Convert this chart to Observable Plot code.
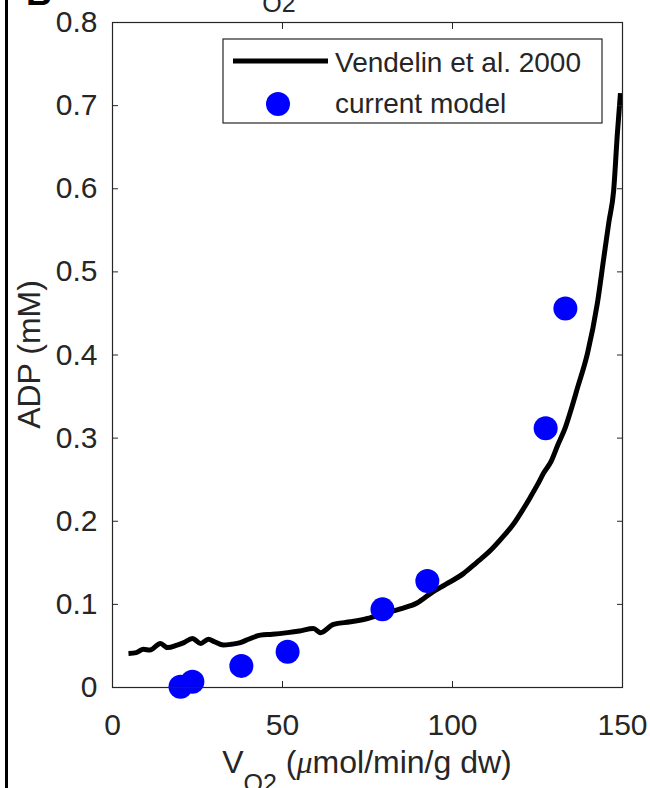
<!DOCTYPE html>
<html>
<head>
<meta charset="utf-8">
<script src="https://cdn.jsdelivr.net/npm/d3@7"></script>
<script src="https://cdn.jsdelivr.net/npm/@observablehq/plot@0.6"></script>
<style>
  html, body { margin: 0; padding: 0; background: #fff; overflow: hidden; }
  #chart svg { display: block; }
</style>
</head>
<body>
<div id="chart"></div>
<script>
// Vendelin et al. 2000 curve (VO2, ADP)
const lineVO2 = [4.7, 7, 9.1, 11, 14.1, 16.2, 19, 21, 23.5, 25.9, 28.2, 30, 32.6, 35, 37.6, 40, 43.5, 47, 51.5, 55, 59.1, 61.2, 65, 70, 75, 79.7, 85, 89.7, 93.5, 98, 103.2, 107, 111.2, 115, 118, 121, 122.9, 125, 126.8, 129, 131, 133.2, 135, 136.8, 139.7, 142.6, 144.4, 146, 147.4, 148.5, 149.4];
const lineADP = [0.041, 0.042, 0.046, 0.045, 0.053, 0.048, 0.051, 0.054, 0.059, 0.053, 0.058, 0.055, 0.051, 0.052, 0.054, 0.058, 0.063, 0.064, 0.066, 0.068, 0.071, 0.066, 0.076, 0.079, 0.083, 0.089, 0.095, 0.102, 0.113, 0.124, 0.137, 0.150, 0.165, 0.182, 0.197, 0.216, 0.229, 0.244, 0.258, 0.272, 0.292, 0.313, 0.336, 0.361, 0.402, 0.462, 0.514, 0.560, 0.598, 0.667, 0.715];
// current model points
const modelVO2 = [20, 23.5, 37.9, 51.5, 79.4, 92.6, 127.4, 133.2];
const modelADP = [0.001, 0.007, 0.026, 0.043, 0.094, 0.128, 0.312, 0.456];
// ticks
const xTicks = [0, 50, 100, 150];
const yTicks = [0, 0.1, 0.2, 0.3, 0.4, 0.5, 0.6, 0.7, 0.8];
const yTickLabels = ["0", "0.1", "0.2", "0.3", "0.4", "0.5", "0.6", "0.7", "0.8"];
const legendLabels = ["Vendelin et al. 2000", "current model"];

const lineData = lineVO2.map((x, i) => ({x, y: lineADP[i]}));
const modelData = modelVO2.map((x, i) => ({x, y: modelADP[i]}));

const W = 650, H = 788;
const mL = 112, mR = 28, mT = 22, mB = 101;
const axisColor = "#262626";
const font = "'Liberation Sans', Arial, Helvetica, sans-serif";

const chart = Plot.plot({
  width: W,
  height: H,
  marginLeft: mL,
  marginRight: mR,
  marginTop: mT,
  marginBottom: mB,
  style: {fontFamily: font, background: "#fff", color: axisColor, overflow: "visible"},
  x: {domain: [0, 150]},
  y: {domain: [0, 0.8]},
  marks: [
    Plot.line(lineData, {x: "x", y: "y", stroke: "#000", strokeWidth: 5, curve: "monotone-x", strokeLinejoin: "round", strokeLinecap: "butt"}),
    Plot.dot(modelData, {x: "x", y: "y", r: 12, fill: "#0000ff", stroke: "none"}),
    Plot.frame({stroke: axisColor, strokeWidth: 1.2}),
    // labels
    Plot.axisX({ticks: xTicks, tickSize: 0, tickPadding: 26, fontSize: 30, label: null, fill: axisColor, tickFormat: d => String(d)}),
    Plot.axisY({ticks: yTicks, tickSize: 0, tickPadding: 15, fontSize: 30, label: null, fill: axisColor, tickFormat: d => yTickLabels[yTicks.indexOf(d)]}),
    // inward tick marks on all four sides
    Plot.axisX({ticks: xTicks, tickSize: 6, dy: -6, tickFormat: () => "", label: null, stroke: axisColor}),
    Plot.axisX({anchor: "top", ticks: xTicks, tickSize: 6, dy: 6, tickFormat: () => "", label: null, stroke: axisColor}),
    Plot.axisY({ticks: yTicks, tickSize: 6, dx: 6, tickFormat: () => "", label: null, stroke: axisColor}),
    Plot.axisY({anchor: "right", ticks: yTicks, tickSize: 6, dx: -6, tickFormat: () => "", label: null, stroke: axisColor})
  ]
});

document.getElementById("chart").appendChild(chart);

const svg = d3.select(chart);

// legend
const lg = svg.append("g").attr("font-family", font).attr("font-size", 28).attr("fill", axisColor).attr("text-anchor", "start");
lg.append("rect").attr("x", 223).attr("y", 39).attr("width", 379).attr("height", 84)
  .attr("fill", "#fff").attr("stroke", axisColor).attr("stroke-width", 1.2);
lg.append("line").attr("x1", 233).attr("x2", 328).attr("y1", 61).attr("y2", 61)
  .attr("stroke", "#000").attr("stroke-width", 5);
lg.append("circle").attr("cx", 278).attr("cy", 104).attr("r", 12).attr("fill", "#0000ff");
lg.append("text").attr("x", 335).attr("y", 62).attr("dy", "0.35em").attr("text-anchor", "start").text(legendLabels[0]);
lg.append("text").attr("x", 335).attr("y", 103).attr("dy", "0.35em").attr("text-anchor", "start").text(legendLabels[1]);

// y-axis label
svg.append("text")
  .attr("transform", `translate(29,${mT + (H - mT - mB) / 2}) rotate(-90)`)
  .attr("text-anchor", "middle").attr("dy", "0.35em")
  .attr("font-family", font).attr("font-size", 32).attr("fill", axisColor)
  .text("ADP (mM)");

// x-axis label with subscript
const xl = svg.append("text")
  .attr("x", mL + (W - mL - mR) / 2).attr("y", 773)
  .attr("text-anchor", "middle")
  .attr("font-family", font).attr("font-size", 32).attr("fill", axisColor);
xl.append("tspan").text("V");
xl.append("tspan").attr("dy", 19).attr("font-size", 25).text("O2");
xl.append("tspan").attr("dy", -19).text(" (");
xl.append("tspan").attr("font-style", "italic").attr("font-family", "'Liberation Serif', 'Times New Roman', serif").text("\u03BC");
xl.append("tspan").text("mol/min/g dw)");

// cropped title subscript and panel letter at the top edge
svg.append("text").attr("x", 279).attr("y", 12).attr("text-anchor", "middle")
  .attr("font-family", font).attr("font-size", 25).attr("fill", axisColor).text("O2");
svg.append("text").attr("x", 26).attr("y", 5).attr("text-anchor", "start")
  .attr("font-family", font).attr("font-size", 36).attr("font-weight", "bold").attr("fill", "#000").text("B");

// left panel border
svg.append("line").attr("x1", 6.5).attr("x2", 6.5).attr("y1", 0).attr("y2", H)
  .attr("stroke", "#000").attr("stroke-width", 3);
</script>
</body>
</html>
